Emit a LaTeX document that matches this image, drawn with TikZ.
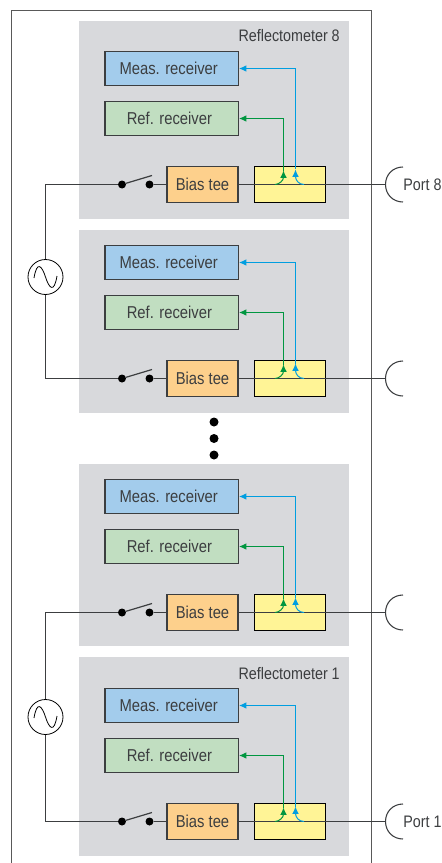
\documentclass[tikz,border=0pt]{standalone}
\usepackage{fontspec}
\setmainfont[FakeStretch=0.86]{Liberation Sans}
\usetikzlibrary{arrows.meta}
\definecolor{panelgray}{RGB}{216,217,220}
\definecolor{measblue}{RGB}{163,204,236}
\definecolor{refgreen}{RGB}{193,222,193}
\definecolor{biasor}{RGB}{253,208,140}
\definecolor{coupyel}{RGB}{255,244,150}
\definecolor{arrblue}{RGB}{0,158,224}
\definecolor{arrgreen}{RGB}{0,150,64}
\definecolor{inkgray}{RGB}{60,62,64}
\tikzset{
  panel/.style={fill=panelgray,draw=none,minimum width=270*.75pt,inner sep=0pt,anchor=north west},
  blockbox/.style={draw=inkgray,line width=.9pt,inner sep=0pt,text=inkgray,font=\fontsize{12.9}{14}\selectfont},
  measbox/.style={blockbox,fill=measblue,minimum width=133.5*.75pt,minimum height=34*.75pt},
  refbox/.style={blockbox,fill=refgreen,minimum width=133.5*.75pt,minimum height=34*.75pt},
  biasbox/.style={blockbox,fill=biasor,minimum width=71*.75pt,minimum height=36*.75pt},
  coupbox/.style={draw=black,line width=.9pt,fill=coupyel,minimum width=71*.75pt,minimum height=36*.75pt,inner sep=0pt},
  wire/.style={draw=inkgray,line width=.9pt},
  dotnode/.style={circle,fill=black,inner sep=0pt,minimum size=8*.75pt},
  bluearrow/.style={draw=arrblue,line width=.75pt,-{Latex[length=5.5pt,width=5pt]}},
  greenarrow/.style={draw=arrgreen,line width=.75pt,-{Latex[length=5.5pt,width=5pt]}},
  label/.style={text=inkgray,inner sep=0pt,font=\fontsize{12.5}{14}\selectfont},
  srcnode/.style={circle,draw=black,fill=white,line width=.6pt,minimum size=35*.75pt,inner sep=0pt},
  bigdot/.style={circle,fill=black,inner sep=0pt,minimum size=9*.75pt}
}
\begin{document}
\begin{tikzpicture}[x=.75pt,y=-.75pt]
\useasboundingbox (0,0) rectangle (442,863);
% panels
\node[panel,minimum height=198*.75pt] (p1) at (79,21) {};
\node[panel,minimum height=183*.75pt] (p2) at (79,230) {};
\node[panel,minimum height=182*.75pt] (p3) at (79,464) {};
\node[panel,minimum height=199*.75pt] (p4) at (79,657) {};
% frame
\coordinate (fbl) at (11.5,863); \coordinate (ftl) at (11.5,10.5);
\coordinate (ftr) at (371.5,10.5); \coordinate (fbr) at (371.5,863);
\draw[draw=gray!70!black,line width=1.2pt] (fbl) -- (ftl) -- (ftr) -- (fbr);
% channels: id / meas y / ref y / line y
\foreach \i/\my/\ry/\ly in {1/68.5/118.5/184.5,2/262.5/312.5/378.5,3/496.5/546.5/612.5,4/705.5/755.5/821.5}{
  \node[measbox] (meas\i) at (171.7,\my) {Meas. receiver\hspace*{4.5pt}\null};
  \node[refbox] (ref\i) at (171.7,\ry) {Ref. receiver\hspace*{3.5pt}\null};
  \node[biasbox] (bias\i) at (202.5,\ly) {Bias tee};
  \node[coupbox] (coup\i) at (290,\ly) {};
  \node[dotnode] (swa\i) at (122,\ly) {};
  \node[dotnode] (swb\i) at (149.5,\ly) {};
  \coordinate (lev\i) at (152,\ly-9);
  \coordinate (port\i) at (385.5,\ly);
  \coordinate (gs\i) at (275,\ly);
  \coordinate (gm\i) at (283.5,\ly-14);
  \coordinate (bs\i) at (304,\ly);
  \coordinate (bm\i) at (295.5,\ly-15);
  \coordinate (pt\i) at (403,\ly-17.5);
  \coordinate (pb\i) at (403,\ly+17.5);
  \draw[wire] (swb\i) -- (bias\i);
  \draw[wire] (swa\i) -- (lev\i);
  \draw[wire] (bias\i.east) -- (port\i);
  \draw[greenarrow] (gm\i) -- (gm\i |- ref\i.east) -- (ref\i.east);
  \draw[bluearrow] (bm\i) -- (bm\i |- meas\i.east) -- (meas\i.east);
  \draw[greenarrow] (gs\i) .. controls (279,\ly) and (283.5,\ly-4) .. (gm\i);
  \draw[bluearrow] (bs\i) .. controls (299,\ly) and (295.5,\ly-4) .. (bm\i);
  \draw[draw=inkgray,line width=.8pt] (pt\i) .. controls (393,\ly-17.5) and (385.5,\ly-10) .. (port\i) .. controls (385.5,\ly+10) and (393,\ly+17.5) .. (pb\i);
}
% sources
\node[srcnode] (src1) at (45.5,277) {};
\node[srcnode] (src2) at (45.5,717) {};
\coordinate (c1a) at (45.5,184.5); \coordinate (c1b) at (45.5,378.5);
\coordinate (c2a) at (45.5,612.5); \coordinate (c2b) at (45.5,821.5);
\draw[wire] (src1) -- (c1a) -- (swa1);
\draw[wire] (src1) -- (c1b) -- (swa2);
\draw[wire] (src2) -- (c2a) -- (swa3);
\draw[wire] (src2) -- (c2b) -- (swa4);
\foreach \cy in {277,717}{
  \draw[draw=black,line width=.6pt] (34,\cy+1) .. controls (37,\cy-17) and (42,\cy-11) .. (45.5,\cy) .. controls (49,\cy+11) and (54,\cy+17) .. (57,\cy-1);
}
% ellipsis
\node[bigdot] (d1) at (214,422) {};
\node[bigdot] (d2) at (214,438.5) {};
\node[bigdot] (d3) at (214,455) {};
% labels
\node[label,anchor=east] (r8) at (340,36) {Reflectometer 8};
\node[label,anchor=east] (r1) at (340,673.5) {Reflectometer 1};
\node[label,anchor=west] (pl8) at (403,185) {Port 8};
\node[label,anchor=west] (pl1) at (403,821.5) {Port 1};
\end{tikzpicture}
\end{document}
